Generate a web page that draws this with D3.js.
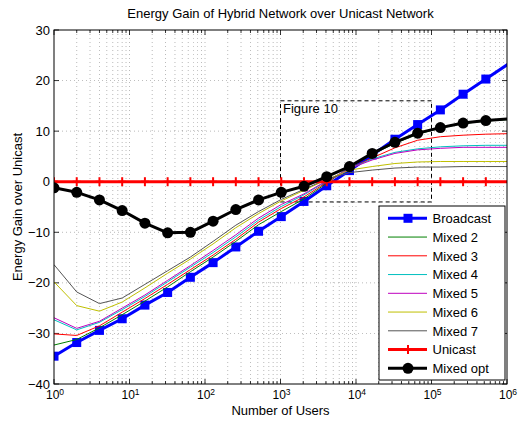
<!DOCTYPE html>
<html><head><meta charset="utf-8">
<script src="https://cdn.jsdelivr.net/npm/d3@7"></script>
<style>body{margin:0;background:#fff}svg{font-family:"Liberation Sans",Arial,sans-serif}</style>
</head><body><svg id="c" width="518" height="424"></svg>
<script>
const exponents = [0,1,2,3,4,5,6,7,8,9,10,11,12,13,14,15,16,17,18,19,20];
const users = exponents.map(e => Math.pow(2, e));
const broadcast = [-34.5,-31.8,-29.4,-27.1,-24.4,-21.9,-18.9,-16.0,-12.9,-9.8,-6.9,-3.9,-0.8,2.2,5.3,8.4,11.3,14.2,17.3,20.3,23.3];
const mixed2 = [-32.3,-31.2,-28.9,-26.3,-23.6,-20.8,-17.8,-14.9,-11.8,-8.5,-5.9,-3.4,-0.3,2.9,5.4,7.6,9.4,10.6,11.5,12.0,12.3];
const mixed3 = [-30.1,-30.4,-28.5,-25.8,-23.1,-20.3,-17.4,-14.5,-11.4,-8.0,-5.3,-3.0,-0.1,2.6,4.7,6.7,8.2,8.9,9.2,9.4,9.5];
const mixed4 = [-27.3,-29.3,-27.8,-25.3,-22.7,-19.8,-16.9,-14.0,-10.9,-7.6,-4.9,-2.6,0.1,2.6,4.5,5.8,6.5,6.9,7.1,7.2,7.2];
const mixed5 = [-26.9,-29.0,-27.6,-25.0,-22.4,-19.5,-16.6,-13.6,-10.5,-7.2,-4.5,-2.4,0.2,2.6,4.3,5.6,6.3,6.6,6.8,6.8,6.8];
const mixed6 = [-19.8,-24.5,-25.6,-23.8,-21.0,-18.1,-15.3,-12.3,-9.1,-6.3,-3.8,-1.7,0.4,2.3,3.0,3.6,3.9,4.0,4.0,4.0,4.0];
const mixed7 = [-16.4,-21.8,-24.1,-23.0,-20.3,-17.6,-14.9,-11.8,-8.6,-5.9,-3.5,-1.5,0.5,1.8,2.3,2.7,2.9,2.9,3.0,3.0,3.0];
const unicast = [0,0,0,0,0,0,0,0,0,0,0,0,0,0,0,0,0,0,0,0,0];
const mixedOpt = [-1.2,-2.1,-3.6,-5.7,-8.2,-10.1,-10.0,-7.8,-5.5,-3.6,-2.1,-0.9,1.0,3.0,5.6,7.8,9.6,10.7,11.6,12.1,12.4];
const seriesNames = ["Broadcast","Mixed 2","Mixed 3","Mixed 4","Mixed 5","Mixed 6","Mixed 7","Unicast","Mixed opt"];
const yTicks = [-40,-30,-20,-10,0,10,20,30];
const xDecades = [0,1,2,3,4,5,6];
const zoomBox = {x0:1e3, x1:1e5, y0:-4, y1:16, label:"Figure 10"};

const series = [
  {name:seriesNames[0], v:broadcast, color:"#0000ff", w:3, marker:"square"},
  {name:seriesNames[1], v:mixed2, color:"#008000", w:1, marker:null},
  {name:seriesNames[2], v:mixed3, color:"#ff0000", w:1, marker:null},
  {name:seriesNames[3], v:mixed4, color:"#00bfbf", w:1, marker:null},
  {name:seriesNames[4], v:mixed5, color:"#bf00bf", w:1, marker:null},
  {name:seriesNames[5], v:mixed6, color:"#bfbf00", w:1, marker:null},
  {name:seriesNames[6], v:mixed7, color:"#555555", w:1, marker:null},
  {name:seriesNames[7], v:unicast, color:"#ff0000", w:3, marker:"plus"},
  {name:seriesNames[8], v:mixedOpt, color:"#000000", w:3, marker:"circle"}
];

const L=54, R=507, T=30, B=384;
const svg = d3.select("#c");
const x = d3.scaleLog().domain([1,1e6]).range([L,R]);
const y = d3.scaleLinear().domain([-40,30]).range([B,T]);

// grid
const g = svg.append("g");
const minorX = [];
xDecades.slice(0,-1).forEach(d => { for (let m=2;m<=9;m++) minorX.push(m*Math.pow(10,d)); });
const majorX = xDecades.map(d=>Math.pow(10,d));
g.selectAll(".gx").data(majorX.slice(1,-1).concat(minorX)).enter().append("line")
  .attr("x1",d=>x(d)).attr("x2",d=>x(d)).attr("y1",T).attr("y2",B)
  .attr("stroke","#000").attr("stroke-width",0.6).attr("stroke-dasharray","1,3").attr("opacity",0.45);
g.selectAll(".gy").data(yTicks.slice(1,-1)).enter().append("line")
  .attr("x1",L).attr("x2",R).attr("y1",d=>y(d)).attr("y2",d=>y(d))
  .attr("stroke","#000").attr("stroke-width",0.6).attr("stroke-dasharray","1,3").attr("opacity",0.45);

// ticks
const tk = svg.append("g").attr("stroke","#000").attr("stroke-width",0.8);
majorX.forEach(d=>{
  tk.append("line").attr("x1",x(d)).attr("x2",x(d)).attr("y1",B).attr("y2",B-5);
  tk.append("line").attr("x1",x(d)).attr("x2",x(d)).attr("y1",T).attr("y2",T+5);
});
minorX.forEach(d=>{
  tk.append("line").attr("x1",x(d)).attr("x2",x(d)).attr("y1",B).attr("y2",B-3);
  tk.append("line").attr("x1",x(d)).attr("x2",x(d)).attr("y1",T).attr("y2",T+3);
});
yTicks.forEach(d=>{
  tk.append("line").attr("x1",L).attr("x2",L+5).attr("y1",y(d)).attr("y2",y(d));
  tk.append("line").attr("x1",R).attr("x2",R-5).attr("y1",y(d)).attr("y2",y(d));
});

// clip
svg.append("clipPath").attr("id","clip").append("rect").attr("x",L).attr("y",T).attr("width",R-L).attr("height",B-T);
const plot = svg.append("g").attr("clip-path","url(#clip)");

// zoom box
plot.append("rect").attr("x",x(zoomBox.x0)).attr("y",y(zoomBox.y1))
  .attr("width",x(zoomBox.x1)-x(zoomBox.x0)).attr("height",y(zoomBox.y0)-y(zoomBox.y1))
  .attr("fill","none").attr("stroke","#000").attr("stroke-width",1).attr("stroke-dasharray","4,3");
svg.append("text").attr("x",x(zoomBox.x0)+2.5).attr("y",y(zoomBox.y1)+12.5).attr("font-size",13).text(zoomBox.label);

const line = d3.line().x((d,i)=>x(users[i])).y(d=>y(d));
function drawMarker(sel, type, color, cx, cy){
  if(type==="square") sel.append("rect").attr("x",cx-4.5).attr("y",cy-4.5).attr("width",9).attr("height",9).attr("fill",color);
  else if(type==="circle") sel.append("circle").attr("cx",cx).attr("cy",cy).attr("r",5.5).attr("fill",color);
  else if(type==="plus"){
    sel.append("line").attr("x1",cx-4).attr("x2",cx+4).attr("y1",cy).attr("y2",cy).attr("stroke",color).attr("stroke-width",2);
    sel.append("line").attr("x1",cx).attr("x2",cx).attr("y1",cy-4.5).attr("y2",cy+4.5).attr("stroke",color).attr("stroke-width",2);
  }
}
series.forEach(s=>{
  plot.append("path").attr("d",line(s.v)).attr("fill","none").attr("stroke",s.color).attr("stroke-width",s.w).attr("stroke-linejoin","round");
  if(s.marker){
    const mg = plot.append("g");
    s.v.forEach((v,i)=>{ if(users[i]<=1e6) drawMarker(mg,s.marker,s.color,x(users[i]),y(v)); });
  }
});

// axes box
svg.append("rect").attr("x",L).attr("y",T).attr("width",R-L).attr("height",B-T).attr("fill","none").attr("stroke","#000").attr("stroke-width",1);

// tick labels
yTicks.forEach(d=>{
  svg.append("text").attr("x",L-4).attr("y",y(d)+4.5).attr("text-anchor","end").attr("font-size",13).text(d<0?"\u2212"+Math.abs(d):d);
});
xDecades.forEach(d=>{
  const t = svg.append("text").attr("x",x(Math.pow(10,d))+1).attr("y",399).attr("text-anchor","middle").attr("font-size",12);
  t.append("tspan").text("10");
  t.append("tspan").attr("dy",-4).attr("font-size",8.5).text(d);
});

svg.append("text").attr("x",(L+R)/2).attr("y",415).attr("text-anchor","middle").attr("font-size",13).text("Number of Users");
svg.append("text").attr("transform",`translate(22,${(T+B)/2}) rotate(-90)`).attr("text-anchor","middle").attr("font-size",13).text("Energy Gain over Unicast");
svg.append("text").attr("x",(L+R)/2).attr("y",18).attr("text-anchor","middle").attr("font-size",13).text("Energy Gain of Hybrid Network over Unicast Network");

// legend
const lg = svg.append("g");
const lx=379, ly=206, lw=126, lh=174;
lg.append("rect").attr("x",lx).attr("y",ly).attr("width",lw).attr("height",lh).attr("fill","#fff").attr("stroke","#000").attr("stroke-width",1);
series.forEach((s,i)=>{
  const cy = ly+12.3+i*18.75;
  lg.append("line").attr("x1",lx+9).attr("x2",lx+48).attr("y1",cy).attr("y2",cy).attr("stroke",s.color).attr("stroke-width",s.w);
  if(s.marker) drawMarker(lg,s.marker,s.color,lx+29,cy);
  lg.append("text").attr("x",lx+53.5).attr("y",cy+4.7).attr("font-size",13).text(s.name);
});
</script></body></html>
